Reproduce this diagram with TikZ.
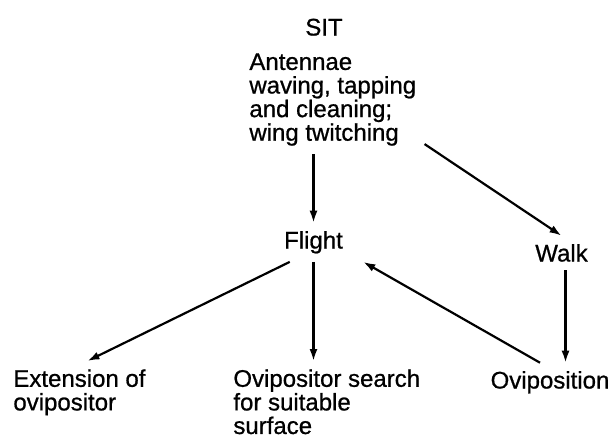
\documentclass[tikz,border=0pt]{standalone}
\usepackage{fontspec}
\setmainfont{Liberation Sans}
\newfontfamily\scanfont{Liberation Sans}[FakeBold=0.8]
\usetikzlibrary{arrows.meta}
\begin{document}
\begin{tikzpicture}[x=0.5pt,y=-0.5pt,
  act/.style={align=left, inner sep=4pt, font=\scanfont\fontsize{12}{11.8}\selectfont},
  arr/.style={-{Latex[length=6pt,width=4pt]}, line width=1.1pt}]
\useasboundingbox (0,0) rectangle (614,439);

\node[act, anchor=base] (sit) at (324,35.5) {SIT};

\node[act, anchor=north west] (block) at (241,45)
{Antennae\\
waving, tapping\\
and cleaning;\\
wing twitching};

\node[act, anchor=base] (flight) at (313.5,248.5) {Flight};
\node[act, anchor=base] (walk) at (561.5,261.5) {Walk};

\node[act, anchor=north west] (ext) at (5,361)
{Extension of\\
ovipositor};

\node[act, anchor=north west] (search) at (225,361)
{Ovipositor search\\
for suitable\\
surface};

\node[act, anchor=base] (ovip) at (550,388.5) {Oviposition};

\draw[arr] (flight.north |- block.south) -- (flight.north);
\draw[arr] ([yshift=5pt]block.south east) -- (walk.north);
\draw[arr] ([xshift=7pt]flight.south west) -- ([xshift=4pt]ext.north);
\draw[arr] (flight.south) -- (flight.south |- search.north);
\draw[arr] ([xshift=-5pt]ovip.north) -- ([xshift=6pt]flight.south east);
\draw[arr] ([xshift=2pt]walk.south) -- ([xshift=2pt]walk.south |- ovip.north);
\end{tikzpicture}
\end{document}
